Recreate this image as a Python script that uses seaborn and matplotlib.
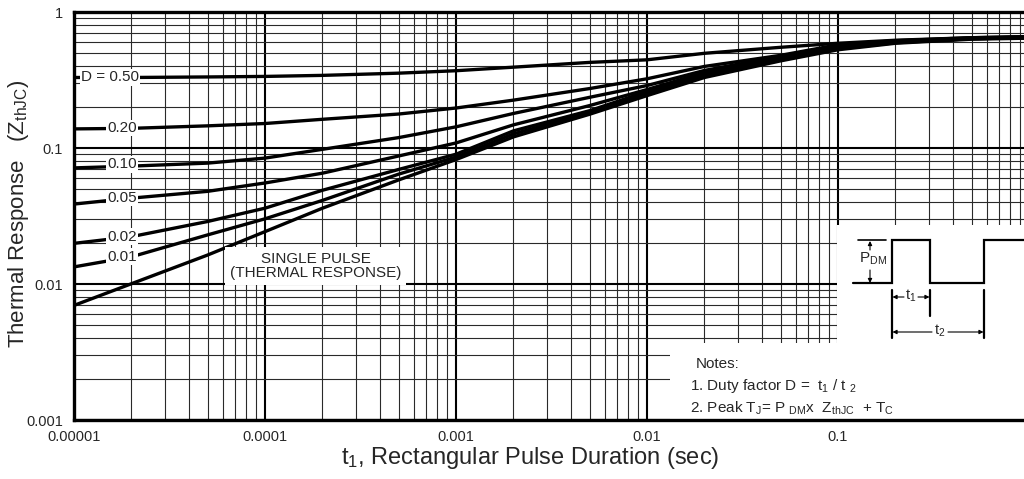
import numpy as np
import pandas as pd
import matplotlib
matplotlib.use("Agg")
import matplotlib.pyplot as plt
import seaborn as sns
from matplotlib.patches import Rectangle
from matplotlib.ticker import LogLocator, NullFormatter, FixedLocator, FixedFormatter

# ---------------- data ----------------
t_sec = [1e-5, 2e-5, 5e-5, 1e-4, 2e-4, 5e-4, 1e-3, 2e-3, 5e-3,
         1e-2, 2e-2, 5e-2, 1e-1, 2e-1, 5e-1, 1.0]
z_d050 = [0.330, 0.330, 0.333, 0.336, 0.342, 0.355, 0.370, 0.393, 0.426,
          0.445, 0.497, 0.550, 0.589, 0.620, 0.647, 0.659]
z_d020 = [0.1382, 0.1395, 0.1455, 0.1514, 0.1626, 0.1777, 0.1968, 0.2249, 0.2735,
          0.3228, 0.398, 0.480, 0.574, 0.615, 0.647, 0.659]
z_d010 = [0.0714, 0.0736, 0.0774, 0.0843, 0.0978, 0.1192, 0.1431, 0.1795, 0.2358,
          0.2879, 0.3718, 0.472, 0.565, 0.610, 0.642, 0.653]
z_d005 = [0.0387, 0.0428, 0.048, 0.0553, 0.0653, 0.0873, 0.1089, 0.148, 0.205,
          0.269, 0.359, 0.464, 0.555, 0.605, 0.642, 0.653]
z_d002 = [0.0199, 0.0223, 0.0288, 0.0361, 0.0489, 0.0695, 0.090, 0.1337, 0.188,
          0.260, 0.3474, 0.452, 0.5458, 0.5995, 0.6364, 0.6473]
z_d001 = [0.01336, 0.01585, 0.02295, 0.03015, 0.0412, 0.0642, 0.0858, 0.127, 0.1816,
          0.251, 0.3386, 0.4446, 0.5366, 0.5941, 0.6364, 0.6473]
z_single = [0.00696, 0.01005, 0.01632, 0.02427, 0.0361, 0.0582, 0.0822, 0.1207, 0.177,
            0.2427, 0.330, 0.437, 0.5275, 0.589, 0.631, 0.642]

series_names = ["0.50", "0.20", "0.10", "0.05", "0.02", "0.01", "single"]
series_vals = [z_d050, z_d020, z_d010, z_d005, z_d002, z_d001, z_single]

label_texts = ["D = 0.50", "0.20", "0.10", "0.05", "0.02", "0.01"]
label_t = [1.54e-5, 1.78e-5, 1.78e-5, 1.78e-5, 1.78e-5, 1.78e-5]
label_z = [0.330, 0.1409, 0.0757, 0.0428, 0.0223, 0.0159]

xtick_vals = [1e-5, 1e-4, 1e-3, 1e-2, 1e-1]
xtick_labels = ["0.00001", "0.0001", "0.001", "0.01", "0.1"]
ytick_vals = [1e-3, 1e-2, 1e-1, 1.0]
ytick_labels = ["0.001", "0.01", "0.1", "1"]

# ---------------- style ----------------
sns.set_style("white")
plt.rcParams["font.family"] = ["Liberation Sans", "DejaVu Sans"]
plt.rcParams["mathtext.fontset"] = "custom"
plt.rcParams["mathtext.rm"] = "Liberation Sans"
plt.rcParams["mathtext.it"] = "Liberation Sans"
plt.rcParams["mathtext.default"] = "regular"

W, H = 1024, 479
fig = plt.figure(figsize=(W / 100, H / 100), dpi=100)
fig.patch.set_facecolor("white")
ax = fig.add_axes([74 / W, (H - 420) / H, 950 / W, 408 / H])

df = pd.concat([pd.DataFrame({"t": t_sec, "z": v, "D": n})
                for n, v in zip(series_names, series_vals)], ignore_index=True)
sns.lineplot(data=df, x="t", y="z", hue="D", palette=["black"] * len(series_names),
             estimator=None, sort=False, lw=2.4, legend=False, ax=ax, zorder=3)

ax.set_xscale("log")
ax.set_yscale("log")
ax.set_xlim(1e-5, 10 ** (-5 + 950 / 191))
ax.set_ylim(1e-3, 1)

ax.xaxis.set_major_locator(FixedLocator(xtick_vals))
ax.xaxis.set_major_formatter(FixedFormatter(xtick_labels))
ax.yaxis.set_major_locator(FixedLocator(ytick_vals))
ax.yaxis.set_major_formatter(FixedFormatter(ytick_labels))
for a in (ax.xaxis, ax.yaxis):
    a.set_minor_locator(LogLocator(base=10, subs=np.arange(2, 10), numticks=30))
    a.set_minor_formatter(NullFormatter())

ax.grid(which="major", color="black", lw=1.5, zorder=0.5)
ax.grid(which="minor", color="#2a2a2a", lw=0.8, zorder=0.5)
ax.set_axisbelow(True)
ax.tick_params(which="both", length=0)
ax.tick_params(axis="x", pad=7, labelsize=10.5)
ax.tick_params(axis="y", pad=8, labelsize=10.5)

for s in ("left", "bottom", "top"):
    ax.spines[s].set_linewidth(2.4)
    ax.spines[s].set_color("black")
ax.spines["right"].set_visible(False)

ax.set_xlabel("t$_1$, Rectangular Pulse Duration (sec)", fontsize=17)
ax.xaxis.label.set_va("center")
ax.xaxis.set_label_coords((530 - 74) / 950, -38 / 408)
ax.set_ylabel("Thermal Response   (Z$_{thJC}$)", fontsize=16)
ax.yaxis.label.set_va("center")
ax.yaxis.set_label_coords((19 - 74) / 950, (420 - 213.5) / 408)

# white areas for inset and notes (axes fraction)
def axfx(px):
    return (px - 74) / 950
def axfy(py):
    return (420 - py) / 408

ax.add_patch(Rectangle((axfx(670), 0), 1.0, axfy(343), transform=ax.transAxes,
                       facecolor="white", edgecolor="none", zorder=1))
ax.add_patch(Rectangle((axfx(837), 0), 1.0, axfy(225), transform=ax.transAxes,
                       facecolor="white", edgecolor="none", zorder=1))

# curve labels
for txt, tx, tz in zip(label_texts, label_t, label_z):
    ax.text(tx, tz, txt, fontsize=11, ha="center", va="center", zorder=5,
            bbox=dict(boxstyle="square,pad=0.08", facecolor="white", edgecolor="none"))

ax.text(1.84e-4, 10 ** (-(266 - 12) / 136), "SINGLE PULSE\n(THERMAL RESPONSE)",
        fontsize=11, ha="center", va="center", linespacing=1.0, zorder=5,
        bbox=dict(boxstyle="square,pad=0.3", facecolor="white", edgecolor="none"))

# ---------------- pulse waveform inset (pixel coordinates) ----------------
ins = fig.add_axes([837 / W, (H - 343) / H, 187 / W, 118 / H])
ins.set_xlim(837, 1024)
ins.set_ylim(343, 225)
ins.axis("off")

wave_x = [853, 892, 892, 930, 930, 984, 984, 1024]
wave_y = [283, 283, 240, 240, 283, 283, 240, 240]
ins.plot(wave_x, wave_y, color="black", lw=1.6, solid_joinstyle="miter")
ins.plot([858, 886], [240, 240], color="black", lw=1.2)
for xv, y0, y1 in [(892, 290, 338), (930, 290, 316), (984, 290, 338)]:
    ins.plot([xv, xv], [y0, y1], color="black", lw=1.6)

arrow = dict(arrowstyle="-|>", color="black", lw=0.8, mutation_scale=6,
             shrinkA=0, shrinkB=0)
ins.annotate("", xy=(870, 241), xytext=(870, 250), arrowprops=arrow)
ins.annotate("", xy=(870, 283), xytext=(870, 270), arrowprops=arrow)
ins.text(873, 259, "P$_{DM}$", fontsize=11, ha="center", va="center")

ins.annotate("", xy=(892.5, 297), xytext=(904, 297), arrowprops=arrow)
ins.annotate("", xy=(929.5, 297), xytext=(918, 297), arrowprops=arrow)
ins.text(911, 296, "t$_1$", fontsize=10.5, ha="center", va="center")

ins.annotate("", xy=(892.5, 332), xytext=(932, 332), arrowprops=arrow)
ins.annotate("", xy=(983.5, 332), xytext=(948, 332), arrowprops=arrow)
ins.text(940, 331, "t$_2$", fontsize=10.5, ha="center", va="center")

# ---------------- notes ----------------
def fig_xy(px, py):
    return px / W, 1 - py / H

fig.text(*fig_xy(696, 364), "Notes:", fontsize=11, va="center", ha="left")
fig.text(*fig_xy(690, 386), "1. Duty factor D =  t$_1$ / t $_2$", fontsize=11,
         va="center", ha="left")
fig.text(*fig_xy(690, 408), "2. Peak T$_J$= P $_{DM}$x  Z$_{thJC}$  + T$_C$",
         fontsize=11, va="center", ha="left")

fig.savefig("out.png", dpi=100, facecolor="white")
